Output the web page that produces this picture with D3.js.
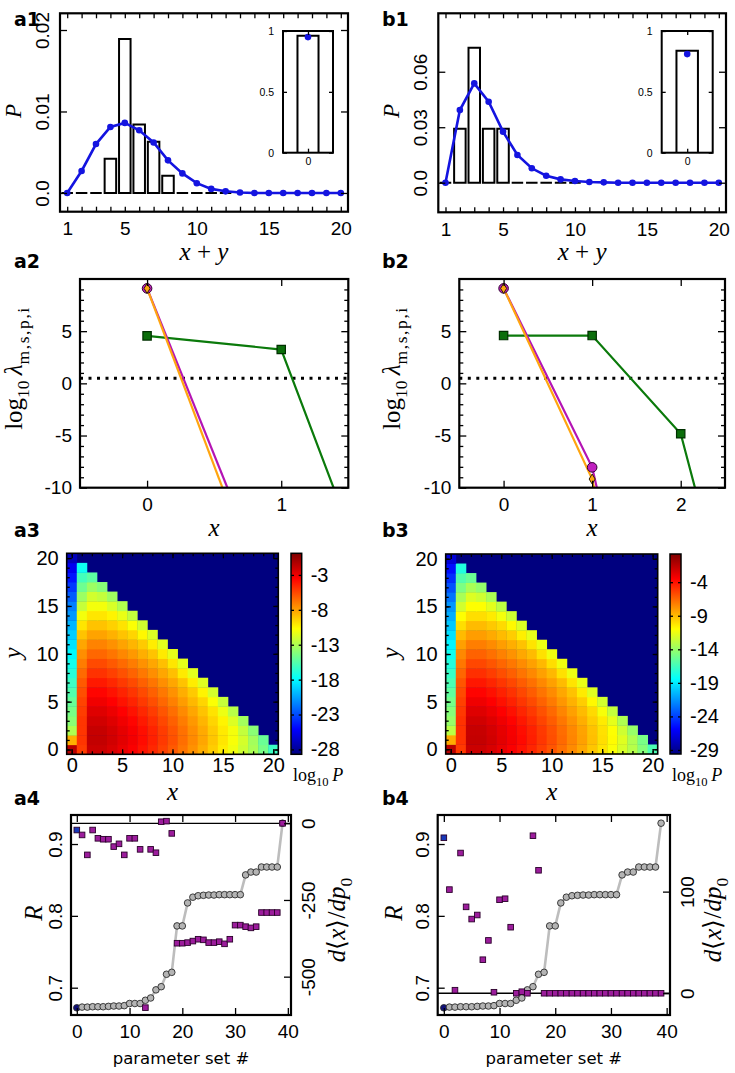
<!DOCTYPE html>
<html><head><meta charset="utf-8">
<script src="https://cdn.jsdelivr.net/npm/d3@7"></script>
<style>body{margin:0;background:#fff}svg{display:block}</style>
</head><body>
<svg id="fig" width="735" height="1073"></svg>
<script>
// ---------------- DATA ----------------
const xySum = [1,2,3,4,5,6,7,8,9,10,11,12,13,14,15,16,17,18,19,20];
const a1Model = [0,0.0027,0.0060,0.0081,0.0086,0.0077,0.0062,0.0040,0.0024,0.0012,0.0005,0.0002,0.00005,0,0,0,0,0,0,0];
const a1HistX = [1,2,3,4,5,6,7,8,9,10,11,12];
const a1Hist  = [0,0,0,0.0042,0.0189,0.0084,0.0063,0.0021,0,0,0,0];
const b1Model = [0,0.0393,0.0537,0.0438,0.0276,0.0150,0.0078,0.0038,0.0018,0.0009,0.0004,0.0002,0,0,0,0,0,0,0,0];
const b1HistX = [1,2,3,4,5,6,7,8,9,10];
const b1Hist  = [0,0.0292,0.0730,0.0292,0.0292,0,0,0,0,0];
const a1Inset = {bar:0.96, model:0.95};
const b1Inset = {bar:0.838, model:0.81};
const a1YTicks = [0,0.01,0.02];
const b1YTicks = [0,0.03,0.06];
const histXLabels = [1,5,10,15,20];

const a2X = [0,1,2];
const a2Green = [4.55,3.24,-30.7];
const a2Magenta = [9.1,-22.8];
const a2Orange = [9.1,-24.9];
const b2X = [0,1,2,3];
const b2Green = [4.58,4.58,-4.83,-37];
const b2Magenta = [9.1,-8.05,-45];
const b2Orange = [9.1,-9.17,-48];
const lambdaThreshold = 0.5;
const lambdaTicks = [-10,-5,0,5];

// log10 P, rows y = 0..20, entries x = 0..(20-y)
const logPRows = [
 [-1.5,-5.2,-2.0,-2.0,-2.4,-2.9,-3.4,-4.0,-4.6,-5.3,-6.0,-6.8,-7.6,-8.4,-9.3,-10.2,-11.1,-12.1,-13.1,-14.5,-16.2],
 [-8.5,-5.0,-1.8,-1.8,-2.2,-2.7,-3.2,-3.8,-4.4,-5.1,-5.8,-6.6,-7.4,-8.2,-9.1,-10.0,-10.9,-11.9,-13.3,-14.9],
 [-13.0,-5.0,-1.9,-1.9,-2.3,-2.8,-3.3,-3.9,-4.5,-5.2,-5.9,-6.7,-7.5,-8.3,-9.2,-10.1,-11.0,-12.4,-14.0],
 [-14.0,-5.0,-2.2,-2.2,-2.6,-3.1,-3.6,-4.2,-4.8,-5.5,-6.2,-7.0,-7.8,-8.6,-9.5,-10.4,-11.7,-13.3],
 [-14.5,-5.2,-2.6,-2.6,-3.0,-3.5,-4.0,-4.6,-5.2,-5.9,-6.6,-7.4,-8.2,-9.0,-9.9,-11.2,-12.7],
 [-15.0,-5.4,-3.1,-3.1,-3.5,-4.0,-4.5,-5.1,-5.7,-6.4,-7.1,-7.9,-8.7,-9.5,-10.8,-12.3],
 [-15.6,-5.7,-3.6,-3.6,-4.0,-4.5,-5.0,-5.6,-6.2,-6.9,-7.6,-8.4,-9.2,-10.4,-11.9],
 [-16.2,-6.0,-4.2,-4.2,-4.6,-5.1,-5.6,-6.2,-6.8,-7.5,-8.2,-9.0,-10.2,-11.6],
 [-16.8,-6.5,-4.9,-4.9,-5.3,-5.8,-6.3,-6.9,-7.5,-8.2,-8.9,-10.1,-11.5],
 [-17.4,-7.0,-5.6,-5.6,-6.0,-6.5,-7.0,-7.6,-8.2,-8.9,-10.0,-11.4],
 [-18.0,-7.5,-6.4,-6.4,-6.8,-7.3,-7.8,-8.4,-9.0,-10.1,-11.4],
 [-18.7,-8.2,-7.2,-7.2,-7.6,-8.1,-8.6,-9.2,-10.2,-11.5],
 [-19.3,-9.0,-8.1,-8.1,-8.5,-9.0,-9.5,-10.5,-11.7],
 [-20.0,-10.0,-9.0,-9.0,-9.4,-9.9,-10.8,-12.0],
 [-20.8,-11.0,-10.0,-10.0,-10.4,-11.3,-12.4],
 [-21.5,-12.3,-11.0,-11.0,-11.8,-12.9],
 [-22.5,-13.5,-12.0,-12.4,-13.4],
 [-23.5,-14.8,-13.5,-14.1],
 [-24.5,-16.0,-15.3],
 [-25.5,-17.5],
 [-27.0]
];
const a3CbarDomain = [-28.7,0.1];
const a3CbarTicks = [-3,-8,-13,-18,-23,-28];
const b3CbarDomain = [-29.6,0.2];
const b3CbarTicks = [-4,-9,-14,-19,-24,-29];
const gridMajor = [0,5,10,15,20];
const gridMinor = [0,1,2,3,4,5,6,7,8,9,10,11,12,13,14,15,16,17,18,19,20];

const paramSet = [0,1,2,3,4,5,6,7,8,9,10,11,12,13,14,15,16,17,18,19,20,21,22,23,24,25,26,27,28,29,30,31,32,33,34,35,36,37,38,39];
const corrR = [0.672,0.673,0.673,0.6735,0.6735,0.6735,0.674,0.6745,0.6745,0.675,0.678,0.678,0.678,0.6825,0.6857,0.697,0.7014,0.7187,0.7214,0.786,0.786,0.818,0.826,0.828,0.8286,0.829,0.829,0.8295,0.8295,0.8295,0.8295,0.8295,0.857,0.861,0.861,0.868,0.868,0.868,0.868,0.929];
const a4Deriv = [-22,-38,-103,-22,-49,-52,-52,-76,-67,-103,-49,-49,-85,-601,-85,-96,5,7,-33,-391,-391,-389,-384,-378,-380,-389,-389,-386,-393,-378,-332,-332,-337,-341,-337,-291,-291,-291,-291,0];
const b4Deriv = [153,102,3,138,85,73,77,33,52,1,92,93,65,0,1.5,0,155,121,0,0,0,0,0,0,0,0,0,0,0,0,0,0,0,0,0,0,0,0,0,0];
const rTicks = [0.7,0.8,0.9];
const a4DerivTicks = [0,-250,-500];
const b4DerivTicks = [0,100];
const paramTicks = [0,10,20,30,40];

// ---------------- STYLE / HELPERS ----------------
const TF = "'Liberation Sans', Arial, Helvetica, sans-serif";
const MF = "'Liberation Serif', 'Times New Roman', serif";
const FS = 19;
const svg = d3.select("#fig");
const defs = svg.append("defs");
let clipId = 0;

function clip(L,T,R,B){
  const id = "clip"+(clipId++);
  defs.append("clipPath").attr("id",id).append("rect").attr("x",L).attr("y",T).attr("width",R-L).attr("height",B-T);
  return "url(#"+id+")";
}
function frame(g,L,T,R,B,sw){
  g.append("rect").attr("x",L).attr("y",T).attr("width",R-L).attr("height",B-T)
   .attr("fill","none").attr("stroke","#000").attr("stroke-width",sw||2.2);
}
function styleAxis(sel,fs){
  sel.select(".domain").remove();
  sel.selectAll(".tick line").attr("stroke","#000").attr("stroke-width",1.3);
  sel.selectAll(".tick text").attr("font-family",TF).attr("font-size",fs||FS).attr("fill","#000");
  return sel;
}
function rotLabels(sel, off){
  sel.selectAll(".tick text").attr("transform","rotate(-90)").attr("x",0).attr("y",off).attr("dy",0).attr("text-anchor","middle");
}
const minusFmt = f => (d => f(d).replace("\u2212","-"));

// x,y = baseline anchor point (for rotated labels x is the baseline's screen x)
function richText(parent, parts, fs, x, y, rotate, anchor){
  const t = parent.append("text").attr("font-family",MF).attr("font-size",fs).attr("fill","#000")
    .attr("text-anchor",anchor||"middle")
    .attr("transform","translate("+x+","+y+")"+(rotate?" rotate(-90)":""));
  let cur = 0;
  parts.forEach(p=>{
    const shift = p.sub ? fs*0.26 : 0;
    const ts = t.append("tspan").text(p.t).attr("dy", shift-cur);
    cur = shift;
    if(p.it) ts.attr("font-style","italic");
    if(p.sub) ts.attr("font-size", fs*0.7);
    if(p.ls) ts.attr("letter-spacing", p.ls);
  });
  return t;
}
function panelLabel(txt,x,y){
  svg.append("text").attr("x",x).attr("y",y).text(txt)
    .attr("font-family","'DejaVu Sans', sans-serif").attr("font-weight","bold").attr("font-size",19).attr("fill","#000");
}

// ---------------- ROW 1: histograms ----------------
function histPanel(c){
  const g = svg.append("g");
  const x = d3.scaleLinear().domain([0.5,20.5]).range([c.L,c.R]);
  const y = d3.scaleLinear().domain(c.yDomain).range([c.B,c.T]);
  const pg = g.append("g").attr("clip-path",clip(c.L,c.T,c.R,c.B));
  pg.selectAll("path.bar").data(c.histX.map((v,i)=>({x:v,p:c.hist[i]}))).join("path")
    .attr("d", d=>"M"+x(d.x-0.4)+","+y(0)+"V"+y(d.p)+"H"+x(d.x+0.4)+"V"+y(0)+"Z")
    .attr("fill","#fff").attr("stroke","#000").attr("stroke-width",2);
  const pts = xySum.map((v,i)=>({x:v,p:c.model[i]}));
  pg.append("path").datum(pts).attr("d", d3.line().x(d=>x(d.x)).y(d=>y(d.p)))
    .attr("fill","none").attr("stroke","#1414e0").attr("stroke-width",2.6);
  pg.selectAll("circle.m").data(pts).join("circle").attr("cx",d=>x(d.x)).attr("cy",d=>y(d.p)).attr("r",3.3).attr("fill","#1414e0");
  styleAxis(g.append("g").attr("transform","translate(0,"+c.B+")")
     .call(d3.axisBottom(x).tickValues(xySum).tickSize(-5).tickPadding(10).tickFormat(d=>histXLabels.includes(d)?d:"")));
  styleAxis(g.append("g").attr("transform","translate(0,"+c.T+")").call(d3.axisTop(x).tickValues(xySum).tickSize(-5).tickFormat("")));
  const ay = styleAxis(g.append("g").attr("transform","translate("+c.L+",0)")
     .call(d3.axisLeft(y).tickValues(c.yTicks).tickSize(-7).tickFormat(d=>d===0?"0.0":d3.format(".2f")(d))));
  rotLabels(ay,-11.5);
  styleAxis(g.append("g").attr("transform","translate("+c.R+",0)").call(d3.axisRight(y).tickValues(c.yTicks).tickSize(-7).tickFormat("")));
  frame(g,c.L,c.T,c.R,c.B);
  // inset
  const I = c.inset;
  const ix = d3.scaleLinear().domain([-0.95,0.95]).range([I.L,I.R]);
  const iy = d3.scaleLinear().domain([0,1]).range([I.B,I.T]);
  g.append("path").attr("d","M"+ix(-0.4)+","+iy(0)+"V"+iy(c.insetVals.bar)+"H"+ix(0.4)+"V"+iy(0))
    .attr("fill","#fff").attr("stroke","#000").attr("stroke-width",2);
  g.append("circle").attr("cx",ix(0)).attr("cy",iy(c.insetVals.model)).attr("r",3.3).attr("fill","#1414e0");
  styleAxis(g.append("g").attr("transform","translate("+I.L+",0)")
     .call(d3.axisLeft(iy).tickValues([0,0.5,1]).tickSize(-4).tickPadding(9).tickFormat(d=>d===0.5?"0.5":d3.format("d")(d))),10.5);
  styleAxis(g.append("g").attr("transform","translate("+I.R+",0)").call(d3.axisRight(iy).tickValues([0,0.5,1]).tickSize(-4).tickFormat("")));
  styleAxis(g.append("g").attr("transform","translate(0,"+I.B+")").call(d3.axisBottom(ix).tickValues([0]).tickSize(-4).tickPadding(5).tickFormat(d3.format("d"))),10.5);
  styleAxis(g.append("g").attr("transform","translate(0,"+I.T+")").call(d3.axisTop(ix).tickValues([0]).tickSize(-4).tickFormat("")));
  frame(g,I.L,I.T,I.R,I.B,2);
  richText(svg,[{t:"P",it:true}],23,c.pX,111,true);
  richText(svg,[{t:"x",it:true},{t:" + "},{t:"y",it:true}],25,(c.L+c.R)/2,260);
}
histPanel({L:60,R:348,T:13.3,B:211.7,yDomain:[-0.0023,0.02205],yTicks:a1YTicks,histX:a1HistX,hist:a1Hist,model:a1Model,
  inset:{L:283,R:333,T:31,B:152.7},insetVals:a1Inset,pX:21});
histPanel({L:438.3,R:726,T:13.3,B:212.3,yDomain:[-0.016,0.0916],yTicks:b1YTicks,histX:b1HistX,hist:b1Hist,model:b1Model,
  inset:{L:661.7,R:712.7,T:31,B:152.7},insetVals:b1Inset,pX:399});

// ---------------- ROW 2: lambda ----------------
function lambdaPanel(c){
  const g = svg.append("g");
  const x = d3.scaleLinear().domain(c.xDomain).range([c.L,c.R]);
  const y = d3.scaleLinear().domain([-10,10]).range([c.B,c.T]);
  const pg = g.append("g").attr("clip-path",clip(c.L,c.T,c.R,c.B));
  pg.append("line").attr("x1",c.L).attr("x2",c.R).attr("y1",y(lambdaThreshold)).attr("y2",y(lambdaThreshold))
    .attr("stroke","#000").attr("stroke-width",3).attr("stroke-dasharray","3,5.5");
  const line = d3.line().x(d=>x(d[0])).y(d=>y(d[1]));
  const series = [
    {v:c.green,col:"#0b7a0b"},{v:c.magenta,col:"#b414b4"},{v:c.orange,col:"#ffa510"}];
  series.forEach(s=>{
    pg.append("path").datum(s.v.map((v,i)=>[c.xs[i],v])).attr("d",line).attr("fill","none").attr("stroke",s.col).attr("stroke-width",2.2);
  });
  const inside = v => v>=-10.3 && v<=10;
  pg.selectAll("path.sq").data(c.green.map((v,i)=>[c.xs[i],v]).filter(d=>inside(d[1]))).join("path")
    .attr("d",d3.symbol(d3.symbolSquare,70)).attr("transform",d=>"translate("+x(d[0])+","+y(d[1])+")")
    .attr("fill","#0b6e0b").attr("stroke","#003000").attr("stroke-width",1.2);
  pg.selectAll("circle.mc").data(c.magenta.map((v,i)=>[c.xs[i],v]).filter(d=>inside(d[1]))).join("circle")
    .attr("cx",d=>x(d[0])).attr("cy",d=>y(d[1])).attr("r",4.8).attr("fill","#c020c0").attr("stroke","#300030").attr("stroke-width",1);
  pg.selectAll("path.dm").data(c.orange.map((v,i)=>[c.xs[i],v]).filter(d=>inside(d[1]))).join("path")
    .attr("d","M0,-5L3,0L0,5L-3,0Z").attr("transform",d=>"translate("+x(d[0])+","+y(d[1])+")")
    .attr("fill","#ffa510").attr("stroke","#302000").attr("stroke-width",1);
  styleAxis(g.append("g").attr("transform","translate(0,"+c.B+")").call(d3.axisBottom(x).tickValues(c.xTicks).tickSize(-7).tickPadding(10).tickFormat(d3.format("d"))));
  styleAxis(g.append("g").attr("transform","translate(0,"+c.T+")").call(d3.axisTop(x).tickValues(c.xTicks).tickSize(-7).tickFormat("")));
  const minor = [-9,-8,-7,-6,-4,-3,-2,-1,1,2,3,4,6,7,8,9];
  styleAxis(g.append("g").attr("transform","translate("+c.L+",0)").call(d3.axisLeft(y).tickValues(lambdaTicks).tickSize(-7).tickPadding(8).tickFormat(minusFmt(d3.format("d")))));
  styleAxis(g.append("g").attr("transform","translate("+c.L+",0)").call(d3.axisLeft(y).tickValues(minor).tickSize(-4).tickFormat("")));
  styleAxis(g.append("g").attr("transform","translate("+c.R+",0)").call(d3.axisRight(y).tickValues(lambdaTicks).tickSize(-7).tickFormat("")));
  styleAxis(g.append("g").attr("transform","translate("+c.R+",0)").call(d3.axisRight(y).tickValues(minor).tickSize(-4).tickFormat("")));
  frame(g,c.L,c.T,c.R,c.B);
  richText(svg,[{t:"log"},{t:"10",sub:true},{t:"\u2009λ",it:true},{t:"m,s,p,i",sub:true,ls:1.6}],25,c.yLabX,368,true);
  richText(svg,[{t:"x",it:true}],25,(c.L+c.R)/2,536);
}
lambdaPanel({L:80,R:348.3,T:279,B:487.7,xDomain:[-0.5,1.5],xTicks:[0,1],xs:a2X,green:a2Green,magenta:a2Magenta,orange:a2Orange,yLabX:22});
lambdaPanel({L:459.3,R:725,T:279,B:487.7,xDomain:[-0.5,2.5],xTicks:[0,1,2],xs:b2X,green:b2Green,magenta:b2Magenta,orange:b2Orange,yLabX:400});

// ---------------- ROW 3: heatmaps ----------------
const jetStops = [0,0.125,0.375,0.625,0.875,1];
const jetCols = ["#00007f","#0000ff","#00ffff","#ffff00","#ff0000","#7f0000"];
function heatPanel(c){
  const g = svg.append("g");
  const x = d3.scaleLinear().domain([-0.5,20.5]).range([c.L,c.R]);
  const y = d3.scaleLinear().domain([-0.5,20.5]).range([c.B,c.T]);
  const jet = d3.scaleLinear().domain(jetStops).range(jetCols).clamp(true);
  const col = v => jet((v-c.cDomain[0])/(c.cDomain[1]-c.cDomain[0]));
  g.append("rect").attr("x",c.L).attr("y",c.T).attr("width",c.R-c.L).attr("height",c.B-c.T).attr("fill",col(c.cDomain[0]));
  const cells = [];
  logPRows.forEach((row,yy)=>row.forEach((v,xx)=>cells.push({x:xx,y:yy,v:v})));
  g.selectAll("rect.cell").data(cells).join("rect")
    .attr("x",d=>x(d.x-0.5)).attr("y",d=>y(d.y+0.5)).attr("width",x(1)-x(0)+0.4).attr("height",y(0)-y(1)+0.4)
    .attr("fill",d=>col(d.v));
  [[d3.axisBottom,c.B],[d3.axisTop,c.T]].forEach(([A,pos],k)=>{
    styleAxis(g.append("g").attr("transform","translate(0,"+pos+")").call(A(x).tickValues(gridMinor).tickSize(-3).tickFormat("")));
    styleAxis(g.append("g").attr("transform","translate(0,"+pos+")").call(A(x).tickValues(gridMajor).tickSize(-5).tickPadding(4).tickFormat(k===0?d3.format("d"):"")),20);
  });
  [[d3.axisLeft,c.L],[d3.axisRight,c.R]].forEach(([A,pos],k)=>{
    styleAxis(g.append("g").attr("transform","translate("+pos+",0)").call(A(y).tickValues(gridMinor).tickSize(-3).tickFormat("")));
    styleAxis(g.append("g").attr("transform","translate("+pos+",0)").call(A(y).tickValues(gridMajor).tickSize(-5).tickPadding(8).tickFormat(k===0?d3.format("d"):"")),20);
  });
  frame(g,c.L,c.T,c.R,c.B,1.6);
  const gid = "grad"+c.id;
  const gr = defs.append("linearGradient").attr("id",gid).attr("x1",0).attr("y1",1).attr("x2",0).attr("y2",0);
  jetStops.forEach((s,i)=>gr.append("stop").attr("offset",s).attr("stop-color",jetCols[i]));
  const cb = c.cbar;
  g.append("rect").attr("x",cb.x).attr("y",c.T).attr("width",cb.w).attr("height",c.B-c.T).attr("fill","url(#"+gid+")");
  const cy = d3.scaleLinear().domain(c.cDomain).range([c.B,c.T]);
  styleAxis(g.append("g").attr("transform","translate("+(cb.x+cb.w)+",0)").call(d3.axisRight(cy).tickValues(c.cTicks).tickSize(-3).tickPadding(9).tickFormat(minusFmt(d3.format("d")))),20);
  styleAxis(g.append("g").attr("transform","translate("+cb.x+",0)").call(d3.axisLeft(cy).tickValues(c.cTicks).tickSize(-3).tickFormat("")));
  frame(g,cb.x,c.T,cb.x+cb.w,c.B,1.5);
  richText(svg,[{t:"log"},{t:"10",sub:true},{t:"\u2009P",it:true}],18,cb.x+2,781,false,"start");
  richText(svg,[{t:"y",it:true}],25,c.yLabX,653,true);
  richText(svg,[{t:"x",it:true}],25,(c.L+c.R)/2,800);
}
heatPanel({id:"a",L:66.7,R:278.3,T:553.3,B:754.3,cbar:{x:291,w:10.7},cDomain:a3CbarDomain,cTicks:a3CbarTicks,yLabX:21});
heatPanel({id:"b",L:445.7,R:657.7,T:554,B:754,cbar:{x:670,w:11},cDomain:b3CbarDomain,cTicks:b3CbarTicks,yLabX:399});

// ---------------- ROW 4: parameter sets ----------------
function paramPanel(c){
  const g = svg.append("g");
  const x = d3.scaleLinear().domain([-1.1,40.6]).range([c.L,c.R]);
  const yR = d3.scaleLinear().domain([0.662,0.9404]).range([c.B,c.T]);
  const yD = d3.scaleLinear().domain(c.dDomain).range([c.B,c.T]);
  const pg = g.append("g").attr("clip-path",clip(c.L-6,c.T-6,c.R+6,c.B+6));
  pg.append("line").attr("x1",c.L).attr("x2",c.R).attr("y1",yD(0)).attr("y2",yD(0)).attr("stroke","#000").attr("stroke-width",1.3);
  const rp = paramSet.map((p,i)=>({p:p,v:corrR[i]}));
  pg.append("path").datum(rp).attr("d",d3.line().x(d=>x(d.p)).y(d=>yR(d.v))).attr("fill","none").attr("stroke","#bdbdbd").attr("stroke-width",2.6);
  pg.selectAll("circle.r").data(rp).join("circle").attr("cx",d=>x(d.p)).attr("cy",d=>yR(d.v)).attr("r",3.3)
    .attr("fill",(d,i)=>i===0?"#10107a":"#b4b4b4").attr("stroke","#2a2a2a").attr("stroke-width",0.9);
  const dp = paramSet.map((p,i)=>({p:p,v:c.deriv[i]}));
  pg.selectAll("rect.d").data(dp).join("rect").attr("x",d=>x(d.p)-2.8).attr("y",d=>yD(d.v)-2.8).attr("width",5.6).attr("height",5.6)
    .attr("fill",(d,i)=>i===0?"#1838b8":"#9c1c9c").attr("stroke","#2a002a").attr("stroke-width",0.9);
  styleAxis(g.append("g").attr("transform","translate(0,"+c.B+")").call(d3.axisBottom(x).tickValues(paramTicks).tickSize(-7).tickPadding(10).tickFormat(d3.format("d"))));
  styleAxis(g.append("g").attr("transform","translate(0,"+c.T+")").call(d3.axisTop(x).tickValues(paramTicks).tickSize(-7).tickFormat("")));
  const al = styleAxis(g.append("g").attr("transform","translate("+c.L+",0)").call(d3.axisLeft(yR).tickValues(rTicks).tickSize(-7).tickFormat(d3.format(".1f"))));
  rotLabels(al,-9);
  const ar = styleAxis(g.append("g").attr("transform","translate("+c.R+",0)").call(d3.axisRight(yD).tickValues(c.dTicks).tickSize(-7).tickFormat(minusFmt(d3.format("d")))));
  rotLabels(ar,24);
  frame(g,c.L,c.T,c.R,c.B);
  richText(svg,[{t:"R",it:true}],25,c.rLabX,913,true);
  richText(svg,[{t:"d",it:true},{t:"\u27E8"},{t:"x",it:true},{t:"\u27E9/"},{t:"dp",it:true},{t:"0",sub:true}],25,c.dLabX,920,true);
  svg.append("text").attr("x",(c.L+c.R)/2).attr("y",1064).attr("text-anchor","middle").text("parameter set #")
    .attr("font-family","'DejaVu Sans', sans-serif").attr("font-size",16.5).attr("fill","#000");
}
paramPanel({L:71,R:291,T:815,B:1015,dDomain:[-625,27],deriv:a4Deriv,dTicks:a4DerivTicks,rLabX:42,dLabX:345});
paramPanel({L:437.7,R:670,T:815,B:1015,dDomain:[-21.4,175.4],deriv:b4Deriv,dTicks:b4DerivTicks,rLabX:402,dLabX:721});

// panel letters
panelLabel("a1",14,26); panelLabel("b1",382,26);
panelLabel("a2",14,268); panelLabel("b2",382,268);
panelLabel("a3",14,537); panelLabel("b3",382,537);
panelLabel("a4",14,805); panelLabel("b4",382,805);
</script>
</body></html>
